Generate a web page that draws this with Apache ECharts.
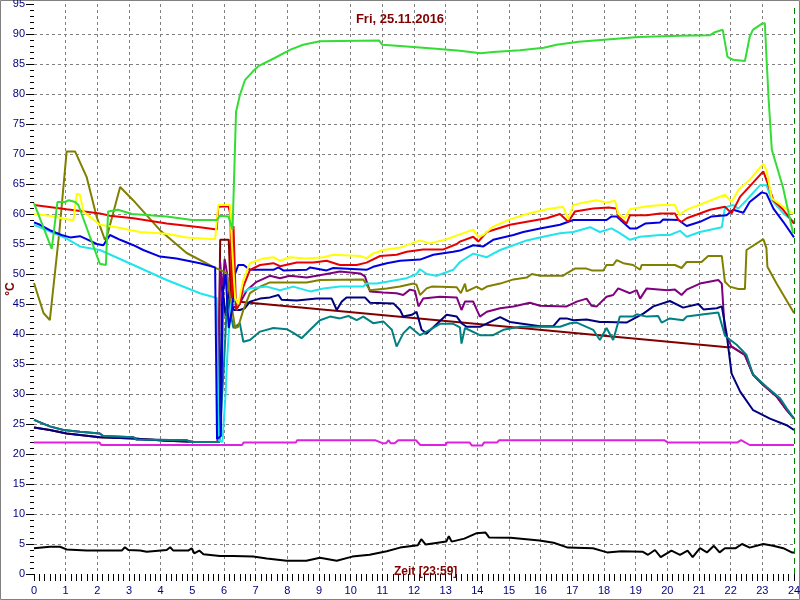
<!DOCTYPE html>
<html><head><meta charset="utf-8">
<script src="https://cdn.jsdelivr.net/npm/echarts@6/dist/echarts.min.js"></script>
<style>html,body{margin:0;padding:0;background:#fff}#c{width:800px;height:600px}</style>
</head><body><div id="c"></div>
<script>
const titleText = 'Fri, 25.11.2016';
const xAxisText = 'Zeit [23:59]';
const yAxisText = '°C';
const xTicks = [0,1,2,3,4,5,6,7,8,9,10,11,12,13,14,15,16,17,18,19,20,21,22,23,24];
const yTicks = [0,5,10,15,20,25,30,35,40,45,50,55,60,65,70,75,80,85,90,95];

const green = [[0,61.8],[0.56,54.2],[0.74,62],[0.98,62],[1.1,62.3],[1.3,62],[1.4,61.5],[2.08,51.7],[2.27,51.5],[2.34,60.4],[2.65,60.7],[3.1,60],[4.19,59.6],[5.0,59],[5.77,59],[5.87,59.7],[6.14,59.6],[6.27,57.4],[6.38,77],[6.5,79.8],[6.66,82.3],[6.9,83.7],[7.1,84.7],[7.6,86],[8.1,87.4],[8.5,88.2],[9.03,88.8],[10.9,88.9],[11.0,88.2],[11.56,88],[12.8,87.5],[13.45,87.2],[14.1,86.8],[14.5,87],[15.35,87.3],[16.1,87.7],[16.5,88.2],[17.2,88.7],[17.9,89],[19.1,89.5],[20.4,89.7],[21.35,89.8],[21.5,90.3],[21.75,90.7],[21.9,86.2],[22.08,85.7],[22.45,85.5],[22.6,89.5],[22.7,90.7],[22.98,91.7],[23.08,91.8],[23.13,86.2],[23.2,79],[23.3,70.7],[23.65,64.5],[23.97,56.8]];
const yellow = [[0,60],[0.5,59.7],[1.24,58.9],[1.35,63.4],[1.45,63.2],[1.56,60.4],[2.08,58.2],[2.61,57.8],[3.35,57],[4.19,56.7],[4.82,56.1],[5.72,55.8],[5.82,61.5],[6.19,61.5],[6.25,55],[6.35,46],[6.45,45],[6.61,49],[6.82,51.8],[7.24,52.6],[7.56,52.8],[7.77,52.2],[8.08,52.8],[8.61,52.6],[9.14,52.8],[9.45,53.2],[10.3,53],[10.5,52.6],[10.7,53.4],[11.03,54],[11.56,54.4],[12.19,55.6],[12.5,55.1],[13.03,55.8],[13.45,56.6],[13.87,57.4],[14.03,56.2],[14.19,56.5],[14.5,57.9],[15.03,59.1],[15.56,60],[16.19,60.8],[16.71,61.2],[16.87,59.1],[17.03,61.5],[17.35,61.9],[17.77,62.3],[18.08,61.9],[18.35,62.2],[18.45,60],[18.66,59.3],[18.82,60.8],[19.35,61.3],[19.87,61.5],[20.24,61.5],[20.38,59.8],[20.56,60.6],[21.24,62],[21.82,63.2],[22.03,62],[22.24,64],[22.6,65.7],[23.03,68.4],[23.13,67.3],[23.3,62.6],[23.66,61.2],[24,60]];
const red = [[0,61.5],[1.03,60.8],[2.08,60.1],[2.4,59.7],[3.14,59.3],[4.19,58.4],[5.24,57.8],[5.77,57.4],[5.82,61.2],[6.14,61.3],[6.2,60],[6.25,46],[6.3,58],[6.38,44],[6.5,45],[6.61,47.9],[6.82,50.7],[7.14,51.5],[7.56,51.8],[7.77,51.3],[8.3,51.9],[8.82,51.9],[9.24,52.2],[9.66,51.5],[10.19,51.5],[10.5,51.9],[10.93,53],[11.45,53.2],[11.77,53.7],[12.29,54.1],[12.93,54.1],[13.35,55],[13.45,55.4],[13.87,56.2],[14.03,55.4],[14.3,57],[15.03,58.2],[15.56,58.7],[16.19,59.3],[16.61,60],[16.87,58.7],[17.08,60.4],[17.66,60.9],[18.14,61.1],[18.4,60.9],[18.45,59.6],[18.71,58.4],[18.82,59.8],[19.35,59.8],[19.77,60.1],[20.24,60.1],[20.35,59],[20.45,58.7],[20.61,59.3],[21.35,60.7],[21.82,61.2],[22.03,60.1],[22.3,62.9],[22.6,64.6],[23.03,67.1],[23.19,64.8],[23.35,62.3],[23.66,60.7],[24,58.4]];
const blue = [[0,58.6],[0.19,58.2],[0.5,57.3],[0.87,56.5],[1.14,56.1],[1.45,56.3],[1.66,55.8],[1.98,55],[2.19,54.8],[2.4,56.5],[2.72,55.7],[3.14,54.8],[3.45,54],[3.98,52.9],[4.5,52.6],[5.24,51.8],[5.72,51.1],[5.78,22.5],[5.9,23],[5.97,47],[6.05,50],[6.15,41],[6.25,44],[6.35,50],[6.45,51.5],[6.62,51.5],[6.82,50.7],[7.56,50.7],[7.72,51.1],[7.87,50.6],[8.61,50.7],[8.72,51.1],[9.24,50.6],[9.45,51],[10.5,50.7],[10.71,51.2],[11.14,51.8],[11.56,52.2],[12.19,52.4],[12.61,53.2],[13.24,53.7],[13.45,53.9],[13.87,54.8],[14.19,54.6],[14.5,55.7],[15.14,56.5],[15.45,57],[15.98,57.6],[16.61,58.2],[17.03,59],[18.08,59],[18.24,59.6],[18.4,59.6],[18.82,57.6],[19.03,57.6],[19.3,58.4],[19.77,58.6],[19.87,59.1],[20.35,59],[20.61,58],[21.03,58.7],[21.4,59.6],[21.87,59.8],[22.08,60.7],[22.4,60.2],[22.6,62],[22.98,63.6],[23.13,63.4],[23.35,60.9],[23.66,58.7],[24,56.1]];
const cyan = [[0,58.2],[0.4,57.3],[1.03,55.9],[1.45,54.6],[2.08,54],[3.14,51.5],[4.19,49],[5.24,46.8],[5.77,46],[5.83,22.3],[5.95,22],[6.05,30],[6.1,36],[6.2,44],[6.3,47],[6.4,44],[6.56,46.8],[6.82,47.6],[7.35,47.9],[7.77,47.3],[8.19,47.9],[8.72,47.1],[9.14,47.6],[9.66,47.9],[10.4,47.9],[10.5,48.4],[10.82,48.4],[11.14,48.7],[11.77,49.3],[12.08,50],[12.19,50.8],[12.4,50],[12.71,49.7],[13.24,50.7],[13.45,52],[13.87,53.4],[14.3,52.8],[14.72,54],[15.14,54.8],[15.56,55.6],[16.08,56.2],[16.61,56.8],[17.03,57],[17.56,57.8],[17.87,57],[18.24,57.6],[18.5,56.8],[18.82,55.7],[19.14,56.2],[19.77,56.5],[20.08,56.5],[20.4,57.2],[20.61,56.2],[21.03,57],[21.72,57.8],[21.82,61.1],[22.08,61.5],[22.24,60.9],[22.5,62.3],[22.93,64.8],[23.13,64.8],[23.3,62.3],[23.66,60.1],[24,58.7]];
const olive = [[0,48.5],[0.3,43.5],[0.5,42.3],[0.8,57],[1.03,70.4],[1.3,70.4],[1.66,66.2],[1.98,59.5],[2.24,55.7],[2.3,56.2],[2.72,64.5],[3.13,62.3],[3.98,57.3],[4.82,53.5],[5.66,51.2],[6.08,50.2],[6.2,46],[6.35,41],[6.45,41.2],[6.61,44],[6.82,46.8],[7.14,47.9],[7.45,48.6],[8.61,48.6],[9.03,49],[10.4,49.1],[10.61,47.3],[11.14,47.6],[11.56,47.9],[11.98,48.4],[12.08,48.2],[12.19,46.5],[12.4,47.6],[12.56,47.9],[13.35,47.8],[13.48,46.8],[13.61,48.4],[13.66,47.1],[13.98,47.9],[14.14,47.4],[14.3,47.9],[14.72,48.4],[15.14,49.1],[15.56,49.4],[15.72,50],[15.98,49.7],[16.71,49.7],[16.82,50.1],[17.08,50.9],[17.45,50.9],[17.61,50.6],[17.98,50.6],[18.08,51.5],[18.29,51.5],[18.4,52.3],[18.61,51.8],[18.92,51.5],[19.14,50.7],[19.19,51.5],[20.24,51.5],[20.45,51],[20.61,52],[21.08,52],[21.29,53],[21.72,53],[21.82,48.7],[21.97,47.9],[22.24,47.5],[22.45,47.5],[22.5,54],[23.03,55.8],[23.13,54.3],[23.16,51.2],[23.45,48.4],[24,43.5]];
const purple = [[0,25.7],[0.5,24.6],[0.93,24],[1.45,23.7],[2.08,23.4],[2.19,23],[3.14,22.8],[3.24,22.4],[4.82,22.3],[4.93,22],[5.8,22],[5.88,52],[5.95,47],[6.02,52.5],[6.1,50],[6.2,44],[6.5,45.1],[6.72,47.3],[7.03,48.7],[7.45,49.7],[7.77,49.3],[8.08,49.7],[8.61,49.4],[9.24,50],[9.66,50.4],[10.3,50.1],[10.45,49.6],[10.61,47.1],[11.03,46.9],[11.45,46.8],[11.66,46.5],[11.87,47.4],[12.03,47.2],[12.14,44.6],[12.29,45.9],[12.82,46.2],[13.35,46.1],[13.5,44],[13.61,45.4],[13.87,45.4],[14.08,42.9],[14.3,43.7],[14.72,44.3],[15.14,44.6],[15.66,45.2],[15.98,44.7],[16.82,44.6],[17.14,45.4],[17.45,45.9],[17.61,44.7],[17.77,44.6],[18.08,46.2],[18.29,46.5],[18.45,47.6],[18.82,46.8],[19.03,47.3],[19.14,45.9],[19.35,47.6],[20,47.3],[20.24,47.4],[20.45,46.5],[20.61,47.4],[21.03,48.4],[21.61,49],[21.72,48.4],[21.82,40.1],[22.03,37.9],[22.45,36.5],[22.71,33.2],[23.03,31.5],[23.45,29.6],[23.77,27.3],[24,25.9]];
const maroon = [[0,24.4],[0.5,24],[1.03,23.4],[2.08,22.8],[3.14,22.6],[4.19,22.2],[5.03,22.05],[5.8,22],[5.88,55.7],[6.15,55.7],[6.22,45.5],[21.9,37.8],[22.03,37.9],[22.45,36.5],[22.71,33.2],[23.03,31.5],[23.45,29.6],[23.77,27.3],[24,25.9]];
const navy = [[0,24.4],[0.5,24],[1.03,23.4],[2.08,22.8],[3.14,22.6],[4.19,22.2],[5.03,22.05],[5.85,22],[5.95,48],[6.05,43],[6.15,47],[6.3,44],[6.5,44],[6.66,44.3],[6.82,45.4],[7.14,45.9],[7.45,46.1],[7.72,46.5],[7.82,45.7],[8.3,45.6],[8.93,45.9],[9.4,45.9],[9.56,44],[9.72,45.4],[9.87,46.1],[10.45,46.1],[10.61,45.2],[11.35,45.1],[11.56,44],[11.66,42.9],[11.93,43.2],[12.08,43.7],[12.24,40.7],[12.4,40.1],[13.03,43.2],[13.35,42.9],[13.5,41.8],[13.66,41.2],[14.08,41.2],[14.72,42.8],[15.03,42],[15.98,41.3],[16.4,41.3],[16.61,42.6],[16.82,42.6],[17.03,42.3],[17.45,42.4],[17.87,42],[18.08,42],[18.71,41.9],[19.24,43.4],[19.56,44.6],[20.08,45.5],[20.5,44.4],[20.98,45],[21.14,44.1],[21.56,44.3],[21.72,44.6],[21.87,40.1],[22.03,33.4],[22.3,30.4],[22.71,27.3],[23.24,25.9],[23.77,24.8],[24,24]];
const teal = [[0,25.7],[0.5,24.6],[0.93,24],[1.45,23.7],[2.08,23.4],[2.19,23],[3.14,22.8],[3.24,22.4],[4.82,22.3],[4.93,22],[5.85,22],[6.0,35],[6.1,46],[6.3,41],[6.5,41.8],[6.61,38.7],[6.82,39],[7.14,40.4],[7.56,41],[7.98,40.8],[8.19,40.2],[8.45,39.3],[8.72,40.7],[9.03,42.3],[9.35,42.9],[9.66,42.6],[9.93,43],[10.19,42.3],[10.4,42.9],[10.71,41.8],[11.03,42.1],[11.3,40.7],[11.45,37.9],[11.66,40.1],[11.87,41.2],[12.19,39.8],[12.5,40.7],[12.82,41.7],[13.24,41.7],[13.45,41.1],[13.5,38.4],[13.61,41],[14.08,39.8],[14.5,39.8],[14.82,40.7],[15.35,41.2],[16.61,41.2],[16.93,41.8],[17.14,41.9],[17.66,40.7],[17.87,39],[18.08,41],[18.29,39],[18.5,42.9],[18.92,42.9],[19.03,43.3],[19.35,42.9],[19.71,43],[19.82,41.9],[20.08,42.6],[20.5,42.3],[20.61,42.9],[21.03,43.2],[21.61,43.6],[21.82,39.7],[22.19,38.2],[22.5,36.5],[22.71,33.2],[23.13,31.2],[23.56,29.3],[23.77,27.6],[24,25.9]];
const magenta = [[0,21.9],[2.07,21.9],[2.12,21.5],[6.57,21.5],[6.62,21.9],[8.27,21.9],[8.31,22.3],[10.77,22.3],[11.0,21.8],[11.12,21.8],[11.2,22.3],[11.26,21.8],[11.39,21.8],[11.5,22.3],[12.06,22.3],[12.2,21.5],[13.0,21.5],[13.04,21.9],[13.76,21.9],[13.83,21.4],[14.15,21.4],[14.21,21.9],[14.62,21.9],[14.69,22.3],[19.9,22.3],[20.02,21.9],[22.2,21.9],[22.33,22.3],[22.6,21.5],[24,21.5]];
const black = [[0,4.3],[0.5,4.55],[0.82,4.55],[1.03,4.1],[1.66,3.9],[2.77,3.9],[2.87,4.45],[2.98,4.0],[3.35,3.9],[3.56,3.7],[4.19,4.0],[4.3,4.45],[4.4,3.9],[4.87,3.9],[4.98,4.3],[5.06,3.45],[5.22,3.9],[5.35,3.3],[5.87,3.0],[6.29,3.0],[6.92,2.9],[7.35,2.6],[7.98,2.2],[8.6,2.2],[9.03,2.7],[9.56,2.2],[10.05,2.9],[10.6,3.2],[11.14,3.8],[11.56,4.4],[12.12,4.8],[12.23,5.8],[12.37,4.9],[13.02,5.4],[13.1,6.3],[13.19,5.4],[13.59,5.9],[13.98,6.8],[14.26,6.9],[14.37,6.1],[15.05,6.05],[15.96,5.6],[16.41,5.2],[16.86,4.4],[17.65,4.3],[18.1,3.6],[18.55,3.8],[19.23,3.7],[19.39,3.2],[19.61,4.0],[19.79,2.8],[20.13,3.9],[20.4,3.2],[20.64,3.9],[20.8,2.8],[21.03,4.3],[21.25,3.6],[21.47,4.7],[21.65,3.6],[21.82,4.3],[22.16,4.3],[22.36,5.0],[22.6,4.4],[23.03,5.0],[23.34,4.7],[23.66,4.3],[23.93,3.6],[24,3.6]];
const nowMarker = 24;

const seriesDefs = [
  ['magenta', magenta, '#e020e0'],
  ['black', black, '#000000'],
  ['maroon', maroon, '#800000'],
  ['purple', purple, '#800080'],
  ['navy', navy, '#000080'],
  ['teal', teal, '#008080'],
  ['olive', olive, '#808000'],
  ['cyan', cyan, '#22e4ec'],
  ['blue', blue, '#0000e0'],
  ['red', red, '#e80000'],
  ['yellow', yellow, '#ffff00'],
  ['green', green, '#33dd33']
];

const chart = echarts.init(document.getElementById('c'), null, {renderer:'canvas'});
const series = seriesDefs.map(([name, data, color]) => ({
  name, type:'line', data, showSymbol:false, symbol:'none',
  lineStyle:{color, width:2}, itemStyle:{color}, animation:false, silent:true
}));
series.push({
  name:'now', type:'line', data:[], silent:true, animation:false,
  markLine:{symbol:'none', silent:true, label:{show:false},
    lineStyle:{color:'#008000', type:[6,4], width:1},
    data:[{xAxis: nowMarker}]}
});

const grid = '#808080';
chart.setOption({
  backgroundColor:'#ffffff',
  animation:false,
  title:[
    {text:titleText, left:'center', top:8, textStyle:{color:'#800000', fontSize:13, fontWeight:'bold', fontFamily:'Liberation Sans, Arial'}},
    {text:xAxisText, left:389, top:561, textStyle:{color:'#800000', fontSize:12, fontWeight:'bold', fontFamily:'Liberation Sans, Arial'}}
  ],
  grid:{left:34, top:4, width:760, height:570, containLabel:false, outerBoundsMode:'none'},
  xAxis:{
    type:'value', min:xTicks[0], max:xTicks[xTicks.length-1], interval:1,
    axisLine:{show:false},
    axisTick:{show:true, length:7, lineStyle:{color:'#000'}},
    minorTick:{show:true, splitNumber:6, length:7, lineStyle:{color:'#000'}},
    axisLabel:{color:'#000080', fontSize:11, margin:11, fontFamily:'Liberation Sans, Arial'},
    splitLine:{show:true, showMinLine:false, showMaxLine:false, lineStyle:{color:grid, type:[3,3], width:1}}
  },
  yAxis:{
    type:'value', min:yTicks[0], max:yTicks[yTicks.length-1], interval:5,
    name:yAxisText, nameLocation:'middle', nameRotate:90, nameGap:17, nameMoveOverlap:false,
    nameTextStyle:{color:'#800000', fontSize:12, fontWeight:'bold', fontFamily:'Liberation Sans, Arial'},
    axisLine:{show:false},
    axisTick:{show:true, length:8, lineStyle:{color:'#000'}},
    minorTick:{show:true, splitNumber:5, length:4, lineStyle:{color:'#000'}},
    axisLabel:{color:'#000080', fontSize:11, margin:9, fontFamily:'Liberation Sans, Arial'},
    splitLine:{show:true, showMinLine:false, showMaxLine:false, lineStyle:{color:grid, type:[3,3], width:1}}
  },
  graphic:[{type:'rect', shape:{x:0.5, y:0.5, width:799, height:599}, style:{fill:null, stroke:'#808080', lineWidth:1}, silent:true}],
  series
});
</script></body></html>
